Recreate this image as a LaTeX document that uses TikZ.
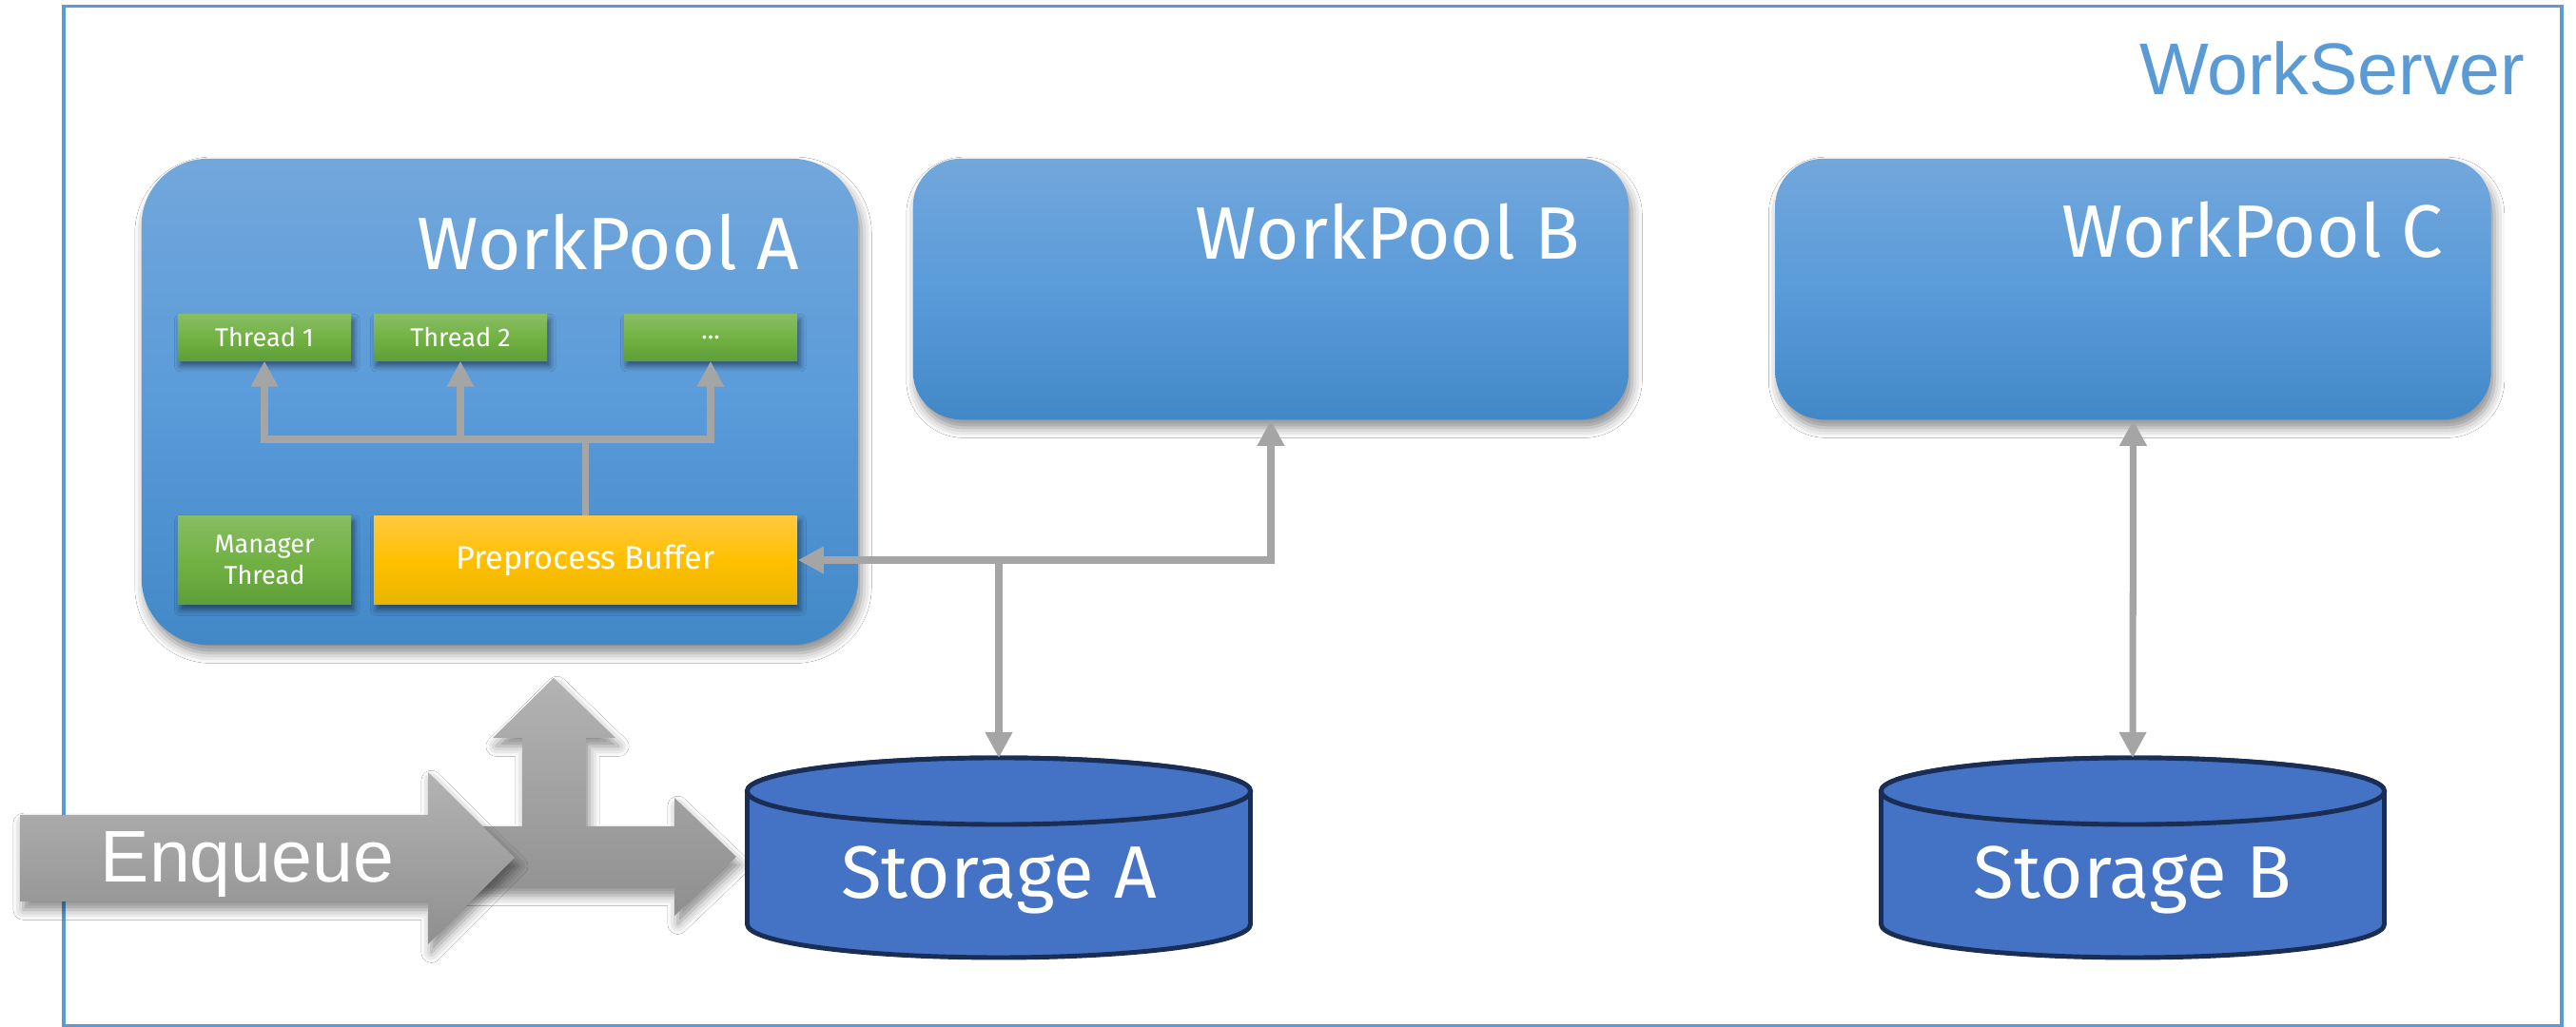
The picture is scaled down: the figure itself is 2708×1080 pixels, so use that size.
\documentclass[tikz,border=0pt]{standalone}
\usepackage{fontspec}
\setmainfont{Fira Sans}
\newfontfamily\arialf{Liberation Sans}
\usetikzlibrary{arrows.meta,shadows.blur}
\definecolor{frameblue}{HTML}{5B9BD5}
\definecolor{pooltop}{HTML}{72A7DB}
\definecolor{poolmid}{HTML}{5A9BDA}
\definecolor{poolbot}{HTML}{4288C7}
\definecolor{grtop}{HTML}{87BD63}
\definecolor{grmid}{HTML}{72B244}
\definecolor{grbot}{HTML}{5F9E38}
\definecolor{yltop}{HTML}{FFC940}
\definecolor{ylmid}{HTML}{FFC000}
\definecolor{ylbot}{HTML}{E8B500}
\definecolor{cylfill}{HTML}{4472C4}
\definecolor{cylline}{HTML}{1A2E55}
\definecolor{conngray}{HTML}{A5A5A5}
\definecolor{bigtop}{HTML}{B3B3B3}
\definecolor{bigbot}{HTML}{8F8F8F}
\newcommand\drawcyl[1]{%
\filldraw[cylbody] ({#1-264.5},832) -- ({#1-264.5},972) .. controls ({#1-264.5},991.3) and ({#1-146.1},1007) .. (#1,1007) .. controls ({#1+146.1},1007) and ({#1+264.5},991.3) .. ({#1+264.5},972) -- ({#1+264.5},832) .. controls ({#1+264.5},812.7) and ({#1+146.1},797) .. (#1,797) .. controls ({#1-146.1},797) and ({#1-264.5},812.7) .. ({#1-264.5},832) -- cycle;
\draw[cylbody] (#1,832) ellipse [x radius=2.645cm, y radius=0.35cm];}
\tikzset{
 >={Triangle[length=0.27cm,width=0.27cm]},
 conn/.style={draw=conngray, line width=2pt},
 bshadow/.style={blur shadow={shadow xshift=1pt, shadow yshift=-2.5pt, shadow blur radius=3pt, shadow opacity=45}},
 sshadow/.style={blur shadow={shadow xshift=0.8pt, shadow yshift=-1.6pt, shadow blur radius=1.8pt, shadow opacity=50}},
 pool/.style={rounded corners=0.5cm, top color=pooltop, bottom color=poolbot, middle color=poolmid, minimum width=7.52cm, minimum height=2.74cm, inner sep=0, bshadow},
 pooltitle/.style={text=white, font=\fontsize{22.2}{26}\selectfont, inner sep=0},
 thrbox/.style={top color=grtop, bottom color=grbot, middle color=grmid, minimum width=1.82cm, minimum height=0.48cm, inner sep=0, text=white, font=\fontsize{7.7}{9.4}\selectfont, align=center, sshadow},
 bufbox/.style={top color=yltop, bottom color=ylbot, middle color=ylmid, minimum width=4.45cm, minimum height=0.93cm, inner sep=0, text=white, font=\fontsize{9.7}{11}\selectfont, sshadow},
 cylbody/.style={fill=cylfill, draw=cylline, line width=1.4pt},
 cyltext/.style={text=white, font=\fontsize{22.2}{26}\selectfont, inner sep=0},
 bigarrow/.style={top color=bigtop, bottom color=bigbot, bshadow}
}
\begin{document}
\begin{tikzpicture}[x=0.01cm,y=-0.01cm]
\useasboundingbox (0,0) rectangle (2708,1080);
\fill[white] (0,0) rectangle (2708,1080);
% server frame
\node[draw=frameblue, line width=1pt, minimum width=26.24cm, minimum height=10.71cm, inner sep=0] (server) at (1380,542.5) {};
\node[anchor=base east, text=frameblue, font=\arialf\fontsize{21.9}{26}\selectfont, inner sep=0] (servertitle) at (2655,100) {WorkServer};
% pools
\node[pool, rounded corners=0.7cm, minimum width=7.53cm, minimum height=5.11cm] (wpA) at (525.5,422.5) {};
\node[pooltitle, anchor=base east] (wpAt) at (841,284) {WorkPool A};
\node[pool] (wpB) at (1336,304) {};
\node[pooltitle, anchor=base east] (wpBt) at (1662,273) {WorkPool B};
\node[pool] (wpC) at (2242.5,304) {};
\node[pooltitle, anchor=base east] (wpCt) at (2569,271) {WorkPool C};
% threads
\node[thrbox] (t1) at (278,355) {Thread 1};
\node[thrbox] (t2) at (484,355) {Thread 2};
\node[thrbox] (t3) at (747,355) {...};
\node[thrbox, minimum height=0.93cm] (mgr) at (278,589) {Manager\\Thread};
\node[bufbox] (buf) at (615.5,589) {Preprocess Buffer};
% internal connectors
\coordinate (jA) at (615.5,462);
\draw[conn,<->] (t1.south) -- (t1.south|-jA) -- (t3.south|-jA) -- (t3.south);
\draw[conn,->] (t2.south|-jA) -- (t2.south);
\draw[conn] (buf.north) -- (jA);
% storages
\drawcyl{1050}
\drawcyl{2242}
\coordinate (stAtop) at (1050,797);
\coordinate (stBtop) at (2242,797);
\node[cyltext, anchor=base] (stA) at (1050,945) {Storage A};
\node[cyltext, anchor=base] (stB) at (2242,945) {Storage B};
% outer connectors
\draw[conn,<->] (buf.east) -- (wpB.south|-buf.east) -- (wpB.south);
\draw[conn,->] (stAtop|-buf.east) -- (stAtop);
\draw[conn,<->] (wpC.south) -- (stBtop);
% enqueue arrows
\shade[bigarrow] (480,869) -- (549,869) -- (549,776) -- (518,776) -- (582,713) -- (647,776) -- (616,776) -- (616,869) -- (709,869) -- (709,839) -- (774,901) -- (709,963) -- (709,933) -- (480,933) -- cycle;
\shade[bigarrow] (21,857) -- (450,857) -- (450,812) -- (541,902) -- (450,993) -- (450,948) -- (21,948) -- cycle;
\node[anchor=base west, text=white, font=\arialf\fontsize{21.9}{26}\selectfont, inner sep=0] (enq) at (105,928) {Enqueue};
\end{tikzpicture}
\end{document}
